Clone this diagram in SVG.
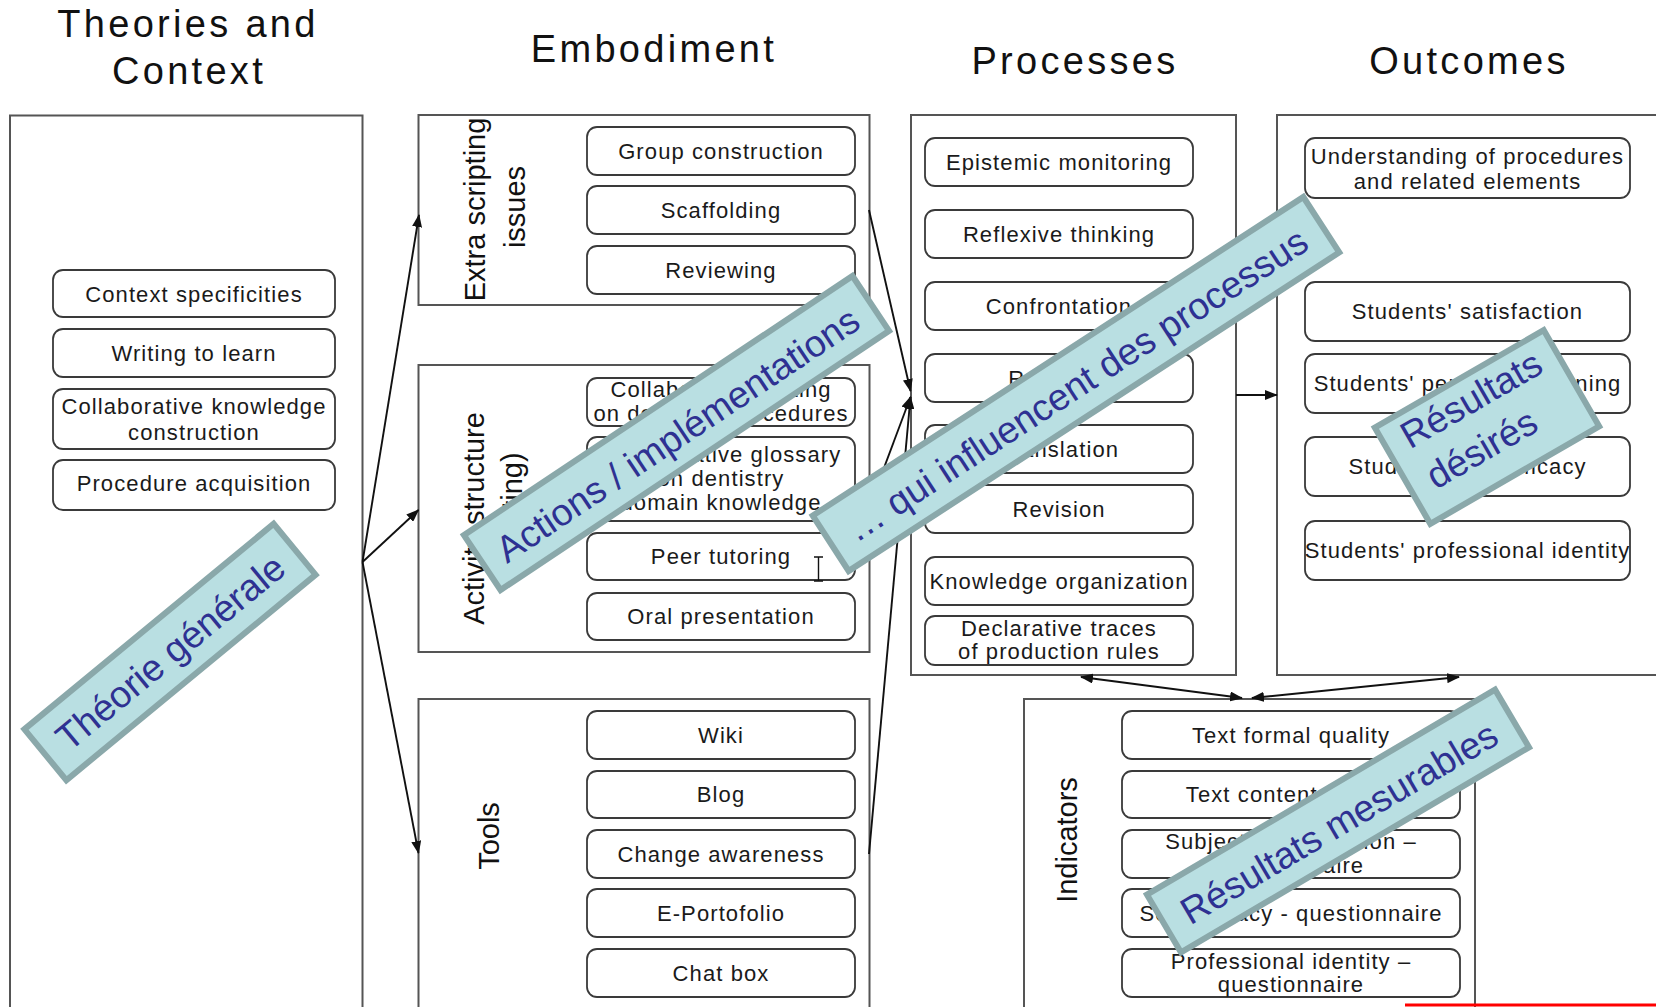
<svg xmlns="http://www.w3.org/2000/svg" width="1656" height="1007" viewBox="0 0 1656 1007">
  <defs>
    <marker id="ah" markerWidth="13" markerHeight="10" refX="12" refY="5" orient="auto-start-reverse" markerUnits="userSpaceOnUse">
      <path d="M0,0 L13,5 L0,10 z" fill="#111"/>
    </marker>
    <style>
      text { font-family: "Liberation Sans", Arial, sans-serif; fill: #111; }
      .hd { font-size: 38px; letter-spacing: 3.3px; text-anchor: middle; }
      .frame { fill: #fff; stroke: #555; stroke-width: 2; }
      .box { fill: #fff; stroke: #3a3a3a; stroke-width: 1.8; }
      .t { font-size: 22px; letter-spacing: 1.1px; text-anchor: middle; fill: #1a1a1a; }
      .lab { font-size: 29px; text-anchor: middle; }
      .conn { stroke: #111; stroke-width: 1.9; fill: none; }
      .ban rect { fill: #b9dfe2; stroke: #8aa8aa; stroke-width: 6; }
      .ban text { font-size: 37.5px; fill: #2e3192; text-anchor: middle; }
    </style>
  </defs>

  <rect width="1656" height="1007" fill="#fff"/>

  <!-- column headings -->
  <g id="headings">
    <text class="hd" x="188" y="37">Theories and</text>
    <text class="hd" x="189" y="84">Context</text>
    <text class="hd" x="654" y="62">Embodiment</text>
    <text class="hd" x="1075" y="74">Processes</text>
    <text class="hd" x="1469" y="74">Outcomes</text>
  </g>

  <!-- Theories and context -->
  <g id="theories">
    <rect class="frame" x="10" y="115.5" width="352.5" height="920"/>
    <rect class="box" x="53" y="270" width="282" height="47" rx="10"/>
    <text class="t" x="194" y="301.5">Context specificities</text>
    <rect class="box" x="53" y="329" width="282" height="48" rx="10"/>
    <text class="t" x="194" y="361">Writing to learn</text>
    <rect class="box" x="53" y="389" width="282" height="60" rx="10"/>
    <text class="t" x="194" y="414">Collaborative knowledge</text>
    <text class="t" x="194" y="440">construction</text>
    <rect class="box" x="53" y="460" width="282" height="50" rx="10"/>
    <text class="t" x="194" y="491">Procedure acquisition</text>
  </g>

  <!-- Embodiment: extra scripting issues -->
  <g id="extra-scripting">
    <rect class="frame" x="418.5" y="115" width="451" height="190"/>
    <text class="lab" transform="translate(485,209.5) rotate(-90)">Extra scripting</text>
    <text class="lab" transform="translate(525,207) rotate(-90)">issues</text>
    <rect class="box" x="587" y="127" width="268" height="48" rx="10"/>
    <text class="t" x="721" y="158.5">Group construction</text>
    <rect class="box" x="587" y="186" width="268" height="48" rx="10"/>
    <text class="t" x="721" y="217.5">Scaffolding</text>
    <rect class="box" x="587" y="246" width="268" height="48" rx="10"/>
    <text class="t" x="721" y="277.5">Reviewing</text>
  </g>

  <!-- Embodiment: activity structure -->
  <g id="activity-structure">
    <rect class="frame" x="418.5" y="365" width="451" height="287"/>
    <text class="lab" transform="translate(484,518.5) rotate(-90)">Activity structure</text>
    <text class="lab" transform="translate(522,516) rotate(-90)">(scripting)</text>
    <rect class="box" x="587" y="378" width="268" height="48" rx="10"/>
    <text class="t" x="721" y="397">Collaborative writing</text>
    <text class="t" x="721" y="421">on dentistry procedures</text>
    <rect class="box" x="587" y="437" width="268" height="84" rx="10"/>
    <text class="t" x="721" y="462">Collaborative glossary</text>
    <text class="t" x="721" y="486">on dentistry</text>
    <text class="t" x="721" y="510">domain knowledge</text>
    <rect class="box" x="587" y="533" width="268" height="47" rx="10"/>
    <text class="t" x="721" y="564">Peer tutoring</text>
    <!-- text cursor -->
    <path d="M814,557 h9 M818.5,557 v24 M814,581 h9" stroke="#111" stroke-width="1.4" fill="none"/>
    <rect class="box" x="587" y="593" width="268" height="47" rx="10"/>
    <text class="t" x="721" y="624">Oral presentation</text>
  </g>

  <!-- Embodiment: tools -->
  <g id="tools">
    <rect class="frame" x="418.5" y="699" width="451" height="330"/>
    <text class="lab" transform="translate(499,836) rotate(-90)">Tools</text>
    <rect class="box" x="587" y="711" width="268" height="48" rx="10"/>
    <text class="t" x="721" y="742.5">Wiki</text>
    <rect class="box" x="587" y="771" width="268" height="47" rx="10"/>
    <text class="t" x="721" y="802">Blog</text>
    <rect class="box" x="587" y="830" width="268" height="48" rx="10"/>
    <text class="t" x="721" y="862">Change awareness</text>
    <rect class="box" x="587" y="889" width="268" height="48" rx="10"/>
    <text class="t" x="721" y="921">E-Portofolio</text>
    <rect class="box" x="587" y="949" width="268" height="48" rx="10"/>
    <text class="t" x="721" y="980.5">Chat box</text>
  </g>

  <!-- Processes -->
  <g id="processes">
    <rect class="frame" x="911" y="115" width="325" height="560"/>
    <rect class="box" x="925" y="138" width="268" height="48" rx="10"/>
    <text class="t" x="1059" y="169.5">Epistemic monitoring</text>
    <rect class="box" x="925" y="210" width="268" height="48" rx="10"/>
    <text class="t" x="1059" y="241.5">Reflexive thinking</text>
    <rect class="box" x="925" y="282" width="268" height="48" rx="10"/>
    <text class="t" x="1059" y="313.5">Confrontation</text>
    <rect class="box" x="925" y="354" width="268" height="48" rx="10"/>
    <text class="t" x="1059" y="385.5">Rewriting</text>
    <rect class="box" x="925" y="425" width="268" height="48" rx="10"/>
    <text class="t" x="1059" y="456.5">Translation</text>
    <rect class="box" x="925" y="485" width="268" height="48" rx="10"/>
    <text class="t" x="1059" y="516.5">Revision</text>
    <rect class="box" x="925" y="557" width="268" height="48" rx="10"/>
    <text class="t" x="1059" y="588.5">Knowledge organization</text>
    <rect class="box" x="925" y="616" width="268" height="49" rx="10"/>
    <text class="t" x="1059" y="636">Declarative traces</text>
    <text class="t" x="1059" y="659">of production rules</text>
  </g>

  <!-- Outcomes -->
  <g id="outcomes">
    <rect class="frame" x="1277" y="115" width="420" height="560"/>
    <rect class="box" x="1305" y="138" width="325" height="60" rx="10"/>
    <text class="t" x="1467.5" y="164">Understanding of procedures</text>
    <text class="t" x="1467.5" y="189">and related elements</text>
    <rect class="box" x="1305" y="282" width="325" height="59" rx="10"/>
    <text class="t" x="1467.5" y="319">Students' satisfaction</text>
    <rect class="box" x="1305" y="354" width="325" height="59" rx="10"/>
    <text class="t" x="1467.5" y="391">Students' perceived learning</text>
    <rect class="box" x="1305" y="437" width="325" height="59" rx="10"/>
    <text class="t" x="1467.5" y="474">Students' self-efficacy</text>
    <rect class="box" x="1305" y="521" width="325" height="59" rx="10"/>
    <text class="t" x="1467.5" y="558">Students' professional identity</text>
  </g>

  <!-- Indicators -->
  <g id="indicators">
    <rect class="frame" x="1024" y="699" width="451" height="330"/>
    <text class="lab" transform="translate(1077,840) rotate(-90)">Indicators</text>
    <rect class="box" x="1122" y="711" width="338" height="48" rx="10"/>
    <text class="t" x="1291" y="742.5">Text formal quality</text>
    <rect class="box" x="1122" y="771" width="338" height="47" rx="10"/>
    <text class="t" x="1291" y="802">Text content quality</text>
    <rect class="box" x="1122" y="830" width="338" height="48" rx="10"/>
    <text class="t" x="1291" y="849">Subjective evaluation –</text>
    <text class="t" x="1291" y="873">questionnaire</text>
    <rect class="box" x="1122" y="889" width="338" height="48" rx="10"/>
    <text class="t" x="1291" y="921">Self-efficacy - questionnaire</text>
    <rect class="box" x="1122" y="949" width="338" height="48" rx="10"/>
    <text class="t" x="1291" y="969">Professional identity –</text>
    <text class="t" x="1291" y="992">questionnaire</text>
  </g>

  <!-- connectors -->
  <g id="connectors" class="conn">
    <path d="M362.5,562 L419,215" marker-end="url(#ah)"/>
    <path d="M362.5,562 L418.5,510" marker-end="url(#ah)"/>
    <path d="M362.5,562 L418.5,853" marker-end="url(#ah)"/>
    <path d="M869,210 L910.5,391" marker-end="url(#ah)"/>
    <path d="M869,508 L910.5,397" marker-end="url(#ah)"/>
    <path d="M869,854 L910.5,397" marker-end="url(#ah)"/>
    <path d="M1236,395 L1277,395" marker-end="url(#ah)"/>
    <path d="M1081,677 L1242,698" marker-start="url(#ah)" marker-end="url(#ah)"/>
    <path d="M1459,677 L1252,698" marker-start="url(#ah)" marker-end="url(#ah)"/>
  </g>

  <line x1="1405" y1="1005" x2="1656" y2="1005" stroke="#f00" stroke-width="3"/>

  <!-- annotation banners -->
  <g id="banner-theorie" class="ban" transform="translate(170,652) rotate(-39.5)">
    <rect x="-161.5" y="-33" width="323" height="66"/>
    <text x="0" y="13.5">Théorie générale</text>
  </g>
  <g id="banner-actions" class="ban" transform="translate(676.5,433) rotate(-33.7)">
    <rect x="-233.5" y="-33" width="467" height="66"/>
    <text x="0" y="15">Actions / implémentations</text>
  </g>
  <g id="banner-processus" class="ban" transform="translate(1076,384) rotate(-33)">
    <rect x="-292.5" y="-33" width="585" height="66"/>
    <text x="0" y="14">… qui influencent des processus</text>
  </g>
  <g id="banner-desires" class="ban" transform="translate(1487,427) rotate(-30)">
    <rect x="-97.5" y="-55.5" width="195" height="111"/>
    <text x="-78" y="-19" style="text-anchor:start">Résultats</text>
    <text x="-76" y="29" style="text-anchor:start">désirés</text>
  </g>
  <g id="banner-mesurables" class="ban" transform="translate(1338,821) rotate(-30.5)">
    <rect x="-202" y="-33.5" width="404" height="67"/>
    <text x="0" y="15">Résultats mesurables</text>
  </g>
</svg>
